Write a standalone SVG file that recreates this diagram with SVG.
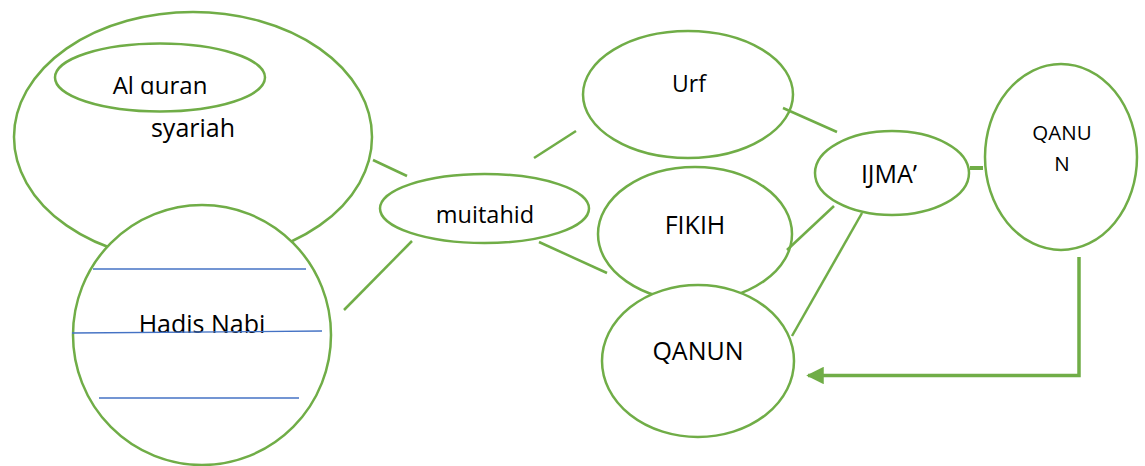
<svg xmlns="http://www.w3.org/2000/svg" width="1145" height="466" viewBox="0 0 1145 466">
<style>
.n{fill:#fff;stroke:#70AD47;stroke-width:2.5}
.t{font-family:"Open Sans","Liberation Sans",sans-serif;font-size:25px;fill:#000;text-anchor:middle}
.c line,.c path{stroke:#70AD47;stroke-width:2.5;fill:none}
.b{stroke:#4472C4;stroke-width:1.3}
</style>
<defs>
<clipPath id="cq"><rect x="0" y="0" width="400" height="94.5"/></clipPath>
<clipPath id="cm"><rect x="380" y="150" width="220" height="73"/></clipPath>
<marker id="ah" markerWidth="5" markerHeight="5" refX="4.5" refY="2.5" orient="auto" markerUnits="strokeWidth"><path d="M0,0 L5,2.5 L0,5 Z" fill="#70AD47"/></marker>
</defs>
<rect width="1145" height="466" fill="#fff"/>
<g id="syariah">
<ellipse class="n" cx="193" cy="137" rx="179" ry="125"/>
<text class="t" x="193" y="137">syariah</text>
</g>
<g id="alquran">
<ellipse class="n" cx="160" cy="77.5" rx="105" ry="34" fill="none"/>
<text class="t" x="160" y="94" clip-path="url(#cq)" style="font-size:24px">Al quran</text>
</g>
<g id="hadis">
<ellipse class="n" cx="202" cy="335" rx="129" ry="130"/>
<text class="t" x="202" y="333">Hadis Nabi</text>
<line class="b" x1="93" y1="269" x2="306" y2="269"/>
<line class="b" x1="72" y1="333" x2="322" y2="331"/>
<line class="b" x1="99" y1="398" x2="299" y2="398"/>
</g>
<g id="mujtahid">
<ellipse class="n" cx="484.5" cy="208.5" rx="104.5" ry="34.5"/>
<text class="t" x="485" y="223" clip-path="url(#cm)" style="font-size:23.5px">mujtahid</text>
</g>
<g id="urf">
<ellipse class="n" cx="688" cy="94.5" rx="105" ry="63.5"/>
<text class="t" x="689" y="92" style="font-size:23px">Urf</text>
</g>
<g id="fikih">
<ellipse class="n" cx="695" cy="234" rx="97" ry="67"/>
<text class="t" x="695" y="234">FIKIH</text>
</g>
<g id="qanun">
<ellipse class="n" cx="698" cy="361" rx="96" ry="76"/>
<text class="t" x="698" y="360">QANUN</text>
</g>
<g id="ijma">
<ellipse class="n" cx="892" cy="173" rx="77" ry="42"/>
<text class="t" x="889" y="183">IJMA’</text>
</g>
<g id="qanun2">
<ellipse class="n" cx="1061" cy="157" rx="76" ry="93"/>
<text class="t" x="1062" y="140" style="font-size:20.5px">QANU</text>
<text class="t" x="1062" y="171" style="font-size:20.5px">N</text>
</g>
<g id="connectors" class="c">
<line x1="373" y1="160" x2="407" y2="176"/>
<line x1="534" y1="158" x2="576" y2="131"/>
<line x1="412" y1="241" x2="344" y2="310"/>
<line x1="539" y1="242" x2="607" y2="273"/>
<line x1="783" y1="108" x2="837" y2="132"/>
<line x1="834" y1="206" x2="787" y2="250"/>
<line x1="862" y1="213" x2="792" y2="336"/>
<line x1="970" y1="168" x2="983" y2="168" style="stroke-width:4"/>
<path d="M1079,257 V375.5 H808" style="stroke-width:3.5" marker-end="url(#ah)"/>
</g>
</svg>
